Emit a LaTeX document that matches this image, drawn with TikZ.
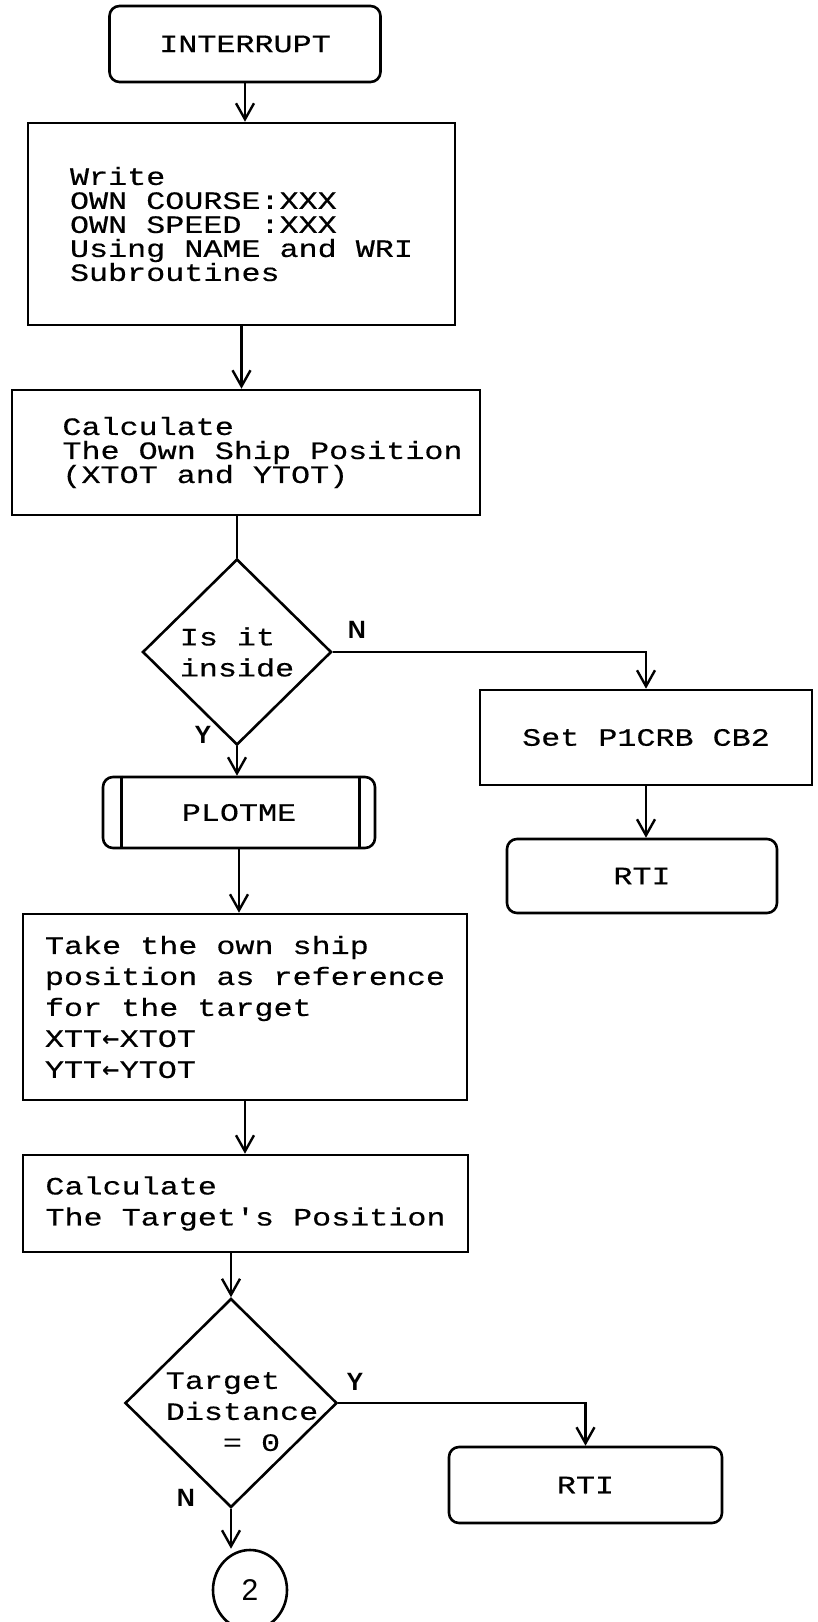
\documentclass[tikz,border=0pt]{standalone}
\usepackage{fontspec}
\setmonofont[FakeStretch=1.27,FakeBold=0.4,WordSpace={1,0,0}]{Liberation Mono}
\newfontfamily\labelfont{Liberation Sans}
\newfontfamily\arrowfont{DejaVu Sans}
\newcommand{\getsarrow}{{\arrowfont\bfseries\fontsize{10.5}{10.5}\selectfont ←}}
\usepackage{tikz}
\usetikzlibrary{arrows.meta,positioning,shapes.geometric}
\tikzset{
  tight/.style={font=\ttfamily\fontsize{12.5}{12}\selectfont},
  loose/.style={font=\ttfamily\fontsize{12.5}{15.5}\selectfont},
  line/.style={line width=1.2pt},
  arr/.style={line width=1.2pt,-{Straight Barb[length=8pt,width=9pt]}},
  box/.style={draw,line width=1.3pt,align=left,inner sep=0pt,tight},
  term/.style={box,rounded corners=5pt,align=center},
  decide/.style={draw,line width=1.3pt,diamond,align=left,loose},
  yn/.style={font=\labelfont\bfseries\fontsize{12.5}{12.5}\selectfont},
}

\begin{document}
\begin{tikzpicture}[x=0.5pt,y=-0.5pt]
\path[use as bounding box,fill=white] (0,0) rectangle (818,1622);

% main column
\node[term,minimum width=135.5pt,minimum height=38pt] (intr) at (245,44) {INTERRUPT};
\node[box,minimum width=213.5pt,minimum height=101pt] (write) at (241.5,224)
  {Write\\OWN COURSE:XXX\\OWN SPEED :XXX\\Using NAME and WRI\\Subroutines};
\node[box,minimum width=234pt,minimum height=62.5pt] (calc1) at (246,452.5)
  {\hspace*{16.5pt}Calculate\\\hspace*{16.5pt}The Own Ship Position\\\hspace*{16.5pt}(XTOT and YTOT)};
\node[decide,inner sep=0pt,minimum width=94.5pt,minimum height=93pt] (d1) at (237,652) {Is it\\inside};
\node[term,minimum width=136pt,minimum height=35.5pt] (plotme) at (239,812.5) {PLOTME};
\draw[line width=1.3pt] ([xshift=10pt]plotme.north west) -- ([xshift=10pt]plotme.south west);
\draw[line width=1.3pt] ([xshift=-8.5pt]plotme.north east) -- ([xshift=-8.5pt]plotme.south east);
\node[box,loose,minimum width=222pt,minimum height=93pt] (take) at (245,1007)
  {Take the own ship\\position as reference\\for the target\\XTT\getsarrow XTOT\\YTT\getsarrow YTOT};
\node[box,loose,minimum width=222.5pt,minimum height=48.5pt] (calc2) at (245.5,1203.5)
  {Calculate\\The Target's Position};
\node[decide,inner xsep=-12pt,inner ysep=-8pt,minimum width=106pt,minimum height=104.5pt] (d2) at (231,1403)
  {\hspace*{11pt}\rule{0pt}{17pt}Target\\\hspace*{11pt}Distance\\\hspace*{11pt}\hphantom{Dis}= 0};
\node[draw,line width=1.3pt,ellipse,inner sep=0pt,minimum width=37pt,minimum height=40pt,
  font=\labelfont\fontsize{15}{15}\selectfont] (c2) at (250,1590) {2};

% right column
\node[box,align=center,minimum width=166pt,minimum height=47.5pt] (set) at (646,737.5) {Set P1CRB CB2};
\node[term,minimum width=135pt,minimum height=37pt] (rti1) at (642,876) {RTI};
\node[term,minimum width=136.5pt,minimum height=38pt] (rti2) at (585.5,1485) {RTI};

% branch labels
\node[yn] (n1) at (357,630) {N};
\node[yn] (y1) at (203,735) {Y};
\node[yn] (y2) at (355,1382) {Y};
\node[yn] (n2) at (186,1498) {N};

% connectors
\draw[arr] (intr.south) -- (intr.south |- write.north);
\draw[arr] (write.south) -- (write.south |- calc1.north);
\draw[line] (d1.north |- calc1.south) -- (d1.north);
\draw[arr] (d1.east) -| (set.north);
\draw[arr] (set.south) -- (set.south |- rti1.north);
\draw[arr] (d1.south) -- (d1.south |- plotme.north);
\draw[arr] (plotme.south) -- (plotme.south |- take.north);
\draw[arr] (take.south) -- (take.south |- calc2.north);
\draw[arr] (d2.north |- calc2.south) -- (d2.north);
\draw[arr] (d2.east) -| (rti2.north);
\draw[arr] (d2.south) -- (d2.south |- c2.north);
\end{tikzpicture}
\end{document}
